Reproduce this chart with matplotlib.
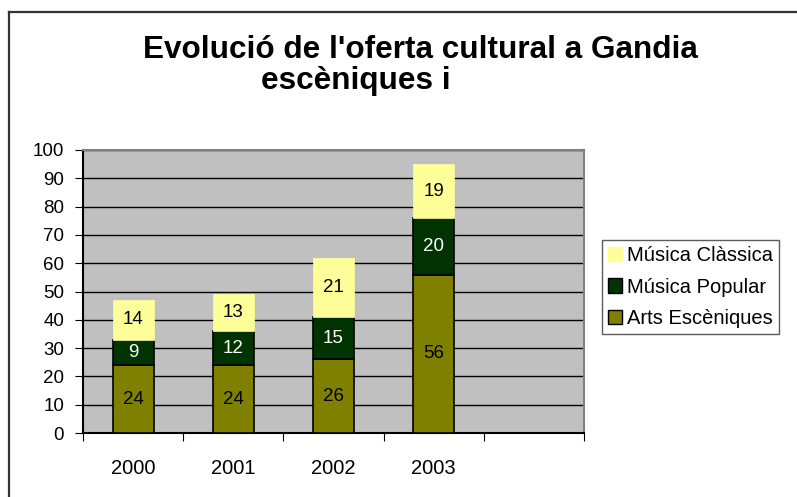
import matplotlib.pyplot as plt
from matplotlib.patches import Patch
from matplotlib.lines import Line2D

plt.rcParams['font.family'] = ['Liberation Sans', 'DejaVu Sans']

# data
anys = ['2000', '2001', '2002', '2003']
arts = [24, 24, 26, 56]
popular = [9, 12, 15, 20]
classica = [14, 13, 21, 19]

c_arts = '#808000'
c_pop = '#003300'
c_cla = '#FFFF99'

fig = plt.figure(figsize=(7.97, 4.97), dpi=100)
W, H = 797.0, 497.0

# outer chart frame (left and top visible, rest runs off the picture)
fig.add_artist(Line2D([9/W, 9/W], [0, 1-12/H], color='#333333', lw=1.6))
fig.add_artist(Line2D([9/W, 1], [1-12/H, 1-12/H], color='#333333', lw=1.6))

ax = fig.add_axes([83/W, (H-433)/H, (584-83)/W, (433-150)/H])
ax.set_facecolor('#C0C0C0')

x = [i + 0.5 for i in range(len(anys))]
bw = 0.41
base2 = [a + p for a, p in zip(arts, popular)]
ax.bar(x, arts, bw, color=c_arts, edgecolor='black', lw=1.2, zorder=3)
ax.bar(x, popular, bw, bottom=arts, color=c_pop, edgecolor='black', lw=1.2, zorder=3)
ax.bar(x, classica, bw, bottom=base2, color=c_cla, edgecolor=c_cla, lw=0.5, zorder=3)

# value labels
for i in range(len(anys)):
    ax.text(x[i], arts[i]/2, str(arts[i]), ha='center', va='center', fontsize=13.5, zorder=4)
    ax.text(x[i], arts[i] + popular[i]/2, str(popular[i]), ha='center', va='center',
            fontsize=13.5, color='white', zorder=4)
    ax.text(x[i], base2[i] + classica[i]/2, str(classica[i]), ha='center', va='center',
            fontsize=13.5, zorder=4)

ax.set_xlim(0, 5)
ax.set_ylim(0, 100)
ax.set_yticks(range(0, 101, 10))
ax.yaxis.grid(True, color='black', lw=1)
ax.set_axisbelow(True)
ax.set_xticks(range(0, 6))
ax.set_xticklabels([])
ax.set_xticks(x, minor=True)
ax.set_xticklabels(anys, minor=True)
ax.tick_params(axis='x', which='major', direction='out', length=5.5, color='black')
ax.tick_params(axis='x', which='minor', length=0, labelsize=14.5, pad=19)
ax.tick_params(axis='y', direction='out', length=5.5, labelsize=13.5, pad=8)
ax.spines['left'].set_color('black')
ax.spines['bottom'].set_color('black')
ax.spines['top'].set_color('#808080')
ax.spines['right'].set_color('#808080')
for s in ax.spines.values():
    s.set_linewidth(1.5)

# title (second line is partly cut off in the original)
fig.text(420/W, 1-58/H, "Evolució de l'oferta cultural a Gandia", ha='center', va='baseline',
         fontsize=22.7, fontweight='bold')
fig.text(356/W, 1-89/H, "escèniques i", ha='center', va='baseline',
         fontsize=22.7, fontweight='bold')

handles = [Patch(facecolor=c_cla, edgecolor=c_cla),
           Patch(facecolor=c_pop, edgecolor='black'),
           Patch(facecolor=c_arts, edgecolor='black')]
leg = fig.legend(handles, ['Música Clàssica', 'Música Popular', 'Arts Escèniques'],
                 loc='upper left', bbox_to_anchor=(602/W, 1-240/H), fontsize=14.5,
                 frameon=True, fancybox=False, edgecolor='#333333', handlelength=0.7,
                 handleheight=0.75, handletextpad=0.25, labelspacing=0.62,
                 borderpad=0.3, borderaxespad=0)
leg.get_frame().set_linewidth(1)

fig.savefig('out.png', dpi=100)
